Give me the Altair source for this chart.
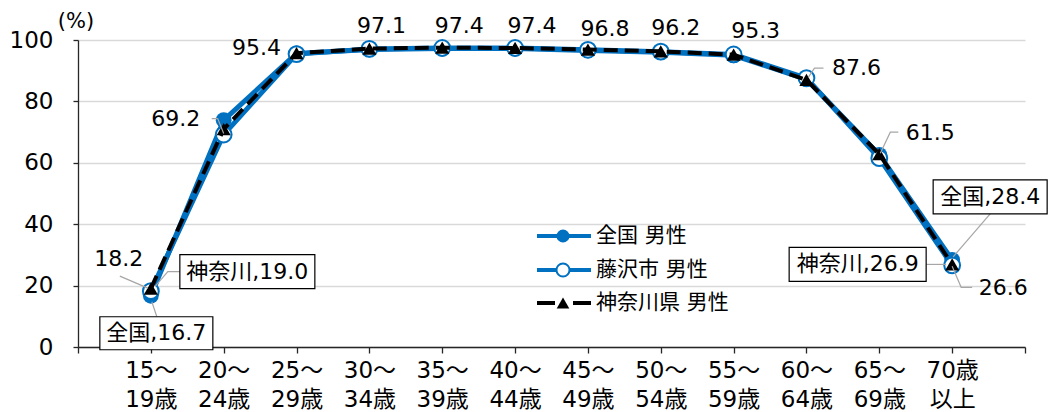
import json
import altair as alt
import pandas as pd

# ---------------- data ----------------
categories = ["15～\n19歳", "20～\n24歳", "25～\n29歳", "30～\n34歳", "35～\n39歳", "40～\n44歳",
              "45～\n49歳", "50～\n54歳", "55～\n59歳", "60～\n64歳", "65～\n69歳", "70歳\n以上"]
zenkoku = [16.7, 73.9, 95.6, 96.9, 97.2, 97.2, 96.6, 96.0, 95.0, 87.2, 62.6, 28.4]
fujisawa = [18.2, 69.2, 95.4, 97.1, 97.4, 97.4, 96.8, 96.2, 95.3, 87.6, 61.5, 26.6]
kanagawa = [19.0, 71.0, 95.7, 97.2, 97.5, 97.4, 96.9, 96.3, 95.2, 87.0, 62.8, 26.9]
series_names = ["全国 男性", "藤沢市 男性", "神奈川県 男性"]
callouts = [("神奈川", 0, kanagawa), ("全国", 0, zenkoku), ("全国", 11, zenkoku), ("神奈川", 11, kanagawa)]
y_ticks = [0, 20, 40, 60, 80, 100]
unit_label = "(%)"

# ---------------- layout ----------------
BLUE = "#0070C0"
GRAY = "#a6a6a6"
FONT = "DejaVu Sans, Noto Sans CJK JP"
W, H = 947, 307
LEFT, TOP = 78, 40
N = len(categories)
XMAX = N + 1


def ax(px):  # absolute pixel x -> data x
    return (px - LEFT) * XMAX / W


def ay(py):  # absolute pixel y -> data y
    return (TOP + H - py) * 100 / H


def cat_px(i):
    return LEFT + (i + 1) * W / XMAX


def val_py(v):
    return TOP + H - v * H / 100


label_lines = [c.split("\n") for c in categories]
label_expr = ("datum.value >= 1 && datum.value <= %d ? %s[datum.value - 1] : ''"
              % (N, json.dumps(label_lines, ensure_ascii=False)))

x_axis = alt.Axis(values=list(range(0, XMAX + 1)), labelExpr=label_expr, title=None, grid=False,
                  domainColor="#262626", domainWidth=1.3, tickColor="#262626", tickWidth=1.3,
                  tickSize=6, labelFont=FONT, labelFontSize=23, labelColor="#000000",
                  labelLineHeight=29, labelPadding=6, labelBaseline="top", labelFlush=False)
y_axis = alt.Axis(values=y_ticks, title=None,
                  grid=True, gridColor="#d9d9d9", gridWidth=1.3,
                  domainColor="#262626", domainWidth=1.3, tickColor="#262626", tickWidth=1.3,
                  tickSize=5, labelFont=FONT, labelFontSize=23, labelColor="#000000", labelPadding=20)

xs = alt.Scale(domain=[0, XMAX], nice=False, zero=False)
ys = alt.Scale(domain=[0, 100], nice=False)


def X(f="x"):
    return alt.X(f, type="quantitative", scale=xs, axis=x_axis)


def Y(f="y"):
    return alt.Y(f, type="quantitative", scale=ys, axis=y_axis)


idx = list(range(1, N + 1))
df_z = pd.DataFrame({"x": idx, "y": zenkoku})
df_f = pd.DataFrame({"x": idx, "y": fujisawa})
df_k = pd.DataFrame({"x": idx, "y": kanagawa})

base_z = alt.Chart(df_z).encode(x=X(), y=Y())
base_f = alt.Chart(df_f).encode(x=X(), y=Y())
base_k = alt.Chart(df_k).encode(x=X(), y=Y())

line_z = base_z.mark_line(color=BLUE, strokeWidth=5)
pts_z = base_z.mark_point(shape="circle", filled=True, color=BLUE, size=250, opacity=1)
line_f = base_f.mark_line(color=BLUE, strokeWidth=5)
pts_f = base_f.mark_point(shape="circle", filled=True, fill="white", stroke=BLUE, strokeWidth=2,
                          size=250, opacity=1)
line_k = base_k.mark_line(color="black", strokeWidth=4, strokeDash=[14, 7])
pts_k = base_k.mark_point(shape="triangle-up", filled=True, color="black", size=200, opacity=1)

# unit label above the y axis
unit = alt.Chart(pd.DataFrame({"x": [ax(76)], "y": [ay(22)], "t": [unit_label]})).mark_text(
    font=FONT, fontSize=21, color="black", align="center", baseline="middle"
).encode(x=X(), y=Y(), text="t:N")

# Fujisawa value labels: pixel offsets of label centre from the point
lab_off = [(-32, -32), (-48, -16), (-40, -6), (12, -23), (17, -22), (17, -22), (17, -21),
           (15, -24), (22, -23), (50, -10), (51, -25), (51, 23)]
lab_rows = []
for i, v in enumerate(fujisawa):
    dx, dy = lab_off[i]
    lab_rows.append({"x": ax(cat_px(i) + dx), "y": ay(val_py(v) + dy), "t": f"{v:.1f}"})
labels = alt.Chart(pd.DataFrame(lab_rows)).mark_text(
    font=FONT, fontSize=22, color="black", align="center", baseline="middle"
).encode(x=X(), y=Y(), text="t:N")

# call-out boxes: (left, top, right, bottom) offsets from the point in pixels
box_off = [(29, -34, 164, 0), (-51, 21, 62, 54), (-19, -80, 95, -46), (-163, -17, -26, 17)]
box_rows, btxt_rows = [], []
for (name, i, ser), (l, t, r, b) in zip(callouts, box_off):
    px, py = cat_px(i), val_py(ser[i])
    box_rows.append({"x": ax(px + l), "x2": ax(px + r), "y": ay(py + t), "y2": ay(py + b)})
    btxt_rows.append({"x": ax(px + (l + r) / 2), "y": ay(py + (t + b) / 2), "t": f"{name},{ser[i]:.1f}"})
boxes = alt.Chart(pd.DataFrame(box_rows)).mark_rect(fill="white", stroke="black", strokeWidth=1.2).encode(
    x=X(), x2="x2", y=Y(), y2="y2")
box_text = alt.Chart(pd.DataFrame(btxt_rows)).mark_text(
    font=FONT, fontSize=22, color="black", align="center", baseline="middle"
).encode(x=X(), y=Y(), text="t:N")

# leader lines: anchor (series, index) and pixel offsets
leaders = [
    (fujisawa, 0, [(-31, -15), (-3, -3)]),
    (kanagawa, 0, [(29, -17), (17, -17), (4, -2)]),
    (zenkoku, 0, [(6, 21), (1, 6)]),
    (fujisawa, 1, [(-12, -16), (-6, -16), (0, -1)]),
    (fujisawa, 9, [(17, -10), (8, -10), (2, -1)]),
    (fujisawa, 10, [(19, -26), (11, -26), (1, -5)]),
    (zenkoku, 11, [(38, -46), (1, -3)]),
    (kanagawa, 11, [(-26, 0), (-6, 0)]),
    (fujisawa, 11, [(0, 1), (9, 22), (20, 22)]),
]
ld_rows = []
for li, (ser, i, pts) in enumerate(leaders):
    px, py = cat_px(i), val_py(ser[i])
    for k, (dx, dy) in enumerate(pts):
        ld_rows.append({"id": li, "k": k, "x": ax(px + dx), "y": ay(py + dy)})
leader_lines = alt.Chart(pd.DataFrame(ld_rows)).mark_line(color=GRAY, strokeWidth=1.2).encode(
    x=X(), y=Y(), detail="id:N", order="k:Q")

# manual legend
leg_y = [236, 270, 303]
leg_x0, leg_x1, leg_xm, leg_xt = 537, 591, 563, 596
leg_rule = pd.DataFrame({"x": [ax(leg_x0)] * 3, "x2": [ax(leg_x1)] * 3,
                         "y": [ay(v) for v in leg_y], "s": series_names})
leg_blue = alt.Chart(leg_rule.iloc[:2]).mark_rule(color=BLUE, strokeWidth=4).encode(
    x=X(), x2="x2", y=Y())
leg_black = alt.Chart(leg_rule.iloc[2:]).mark_rule(color="black", strokeWidth=4,
                                                   strokeDash=[18, 18]).encode(x=X(), x2="x2", y=Y())
leg_pt = pd.DataFrame({"x": [ax(leg_xm)] * 3, "y": [ay(v) for v in leg_y]})
leg_p1 = alt.Chart(leg_pt.iloc[:1]).mark_point(shape="circle", filled=True, color=BLUE, size=170,
                                               opacity=1).encode(x=X(), y=Y())
leg_p2 = alt.Chart(leg_pt.iloc[1:2]).mark_point(shape="circle", filled=True, fill="white", stroke=BLUE,
                                                strokeWidth=2, size=170, opacity=1).encode(x=X(), y=Y())
leg_p3 = alt.Chart(leg_pt.iloc[2:]).mark_point(shape="triangle-up", filled=True, color="black", size=160,
                                               opacity=1).encode(x=X(), y=Y())
leg_txt = alt.Chart(pd.DataFrame({"x": [ax(leg_xt)] * 3, "y": [ay(v) for v in leg_y],
                                  "t": series_names})).mark_text(
    font=FONT, fontSize=21, color="black", align="left", baseline="middle"
).encode(x=X(), y=Y(), text="t:N")

chart = alt.layer(
    line_z, pts_z, line_f, pts_f, line_k, pts_k,
    leader_lines, labels, boxes, box_text, unit,
    leg_blue, leg_black, leg_p1, leg_p2, leg_p3, leg_txt
).properties(
    width=W, height=H, autosize=alt.AutoSizeParams(type="none"),
    padding={"left": LEFT, "top": TOP, "right": 1049 - LEFT - W, "bottom": 412 - TOP - H},
    background="white"
).configure_view(stroke=None)

chart.save("out.html", embed_options={"renderer": "svg", "actions": False})
